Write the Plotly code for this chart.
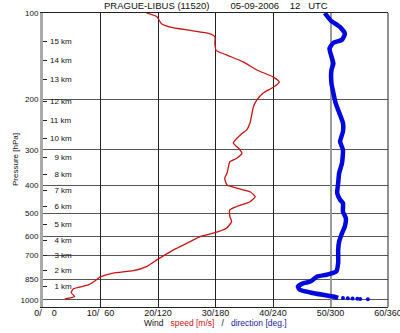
import math
import plotly.graph_objects as go

# ---------------- data ----------------
# wind speed profile (m/s) vs pressure (hPa)
speed_p = [994, 974, 945, 915, 888, 852, 834, 807, 792, 766, 726, 670, 627, 602, 586,
           563, 534, 513, 486, 473, 455, 437, 420, 408, 398, 377, 362, 348, 330, 321,
           308, 296, 284, 263, 256, 242, 212, 201, 190, 182, 174, 167, 158, 148, 140,
           135, 128, 121, 118, 115, 112, 109, 103, 100]
speed_ms = [3.8, 5.5, 4.9, 5.3, 7.9, 9.3, 9.9, 12.2, 15.7, 18.0, 19.8, 22.7, 25.6, 27.3, 29.6,
            31.9, 32.8, 32.5, 32.5, 33.7, 36.0, 36.9, 36.0, 33.7, 32.0, 31.6, 32.0, 32.2, 32.5, 33.7,
            34.6, 34.0, 33.1, 34.6, 35.4, 36.0, 36.6, 37.2, 38.3, 40.0, 41.1, 40.0, 37.2, 34.8, 31.9,
            30.1, 29.9, 29.9, 29.0, 25.6, 22.1, 20.6, 19.8, 18.0]

# wind direction profile (deg) vs pressure (hPa)
dir_p = [985, 974, 961, 943, 923, 899, 875, 864, 830, 818, 797, 745, 670, 627, 586,
         555, 519, 493, 460, 448, 425, 392, 362, 334, 300, 281, 259, 242, 218, 204,
         190, 176, 158, 150, 142, 133, 127, 124, 118, 112, 106, 100]
dir_deg = [308, 303, 292, 279, 268, 266, 272, 279, 286, 296, 306, 308, 308, 309, 312,
           315, 316, 313, 313, 310, 307, 308, 309, 312, 313, 310, 313, 313, 308, 305,
           303, 301, 301, 303, 301, 299, 303, 312, 315, 310, 300, 294]
# isolated near-surface direction points
sfc_p = [987, 989, 991, 993, 995, 997]
sfc_deg = [313, 318, 323, 328, 331, 339]

# axis ticks
speed_ticks = [0, 10, 20, 30, 40, 50, 60]
dir_ticks = [0, 60, 120, 180, 240, 300, 360]
speed_grid = [10, 20, 30, 40]
dir_ref = [300]
p_ticks = [100, 200, 300, 400, 500, 600, 700, 850, 1000]
km_labels = [15, 14, 13, 12, 11, 10, 9, 8, 7, 6, 5, 4, 3, 2, 1]
km_p = [126, 147, 171, 203, 238, 275, 318, 367, 417, 474, 548, 623, 703, 793, 902]

title_station = "PRAGUE-LIBUS (11520)"
title_date = "05-09-2006"
title_hour = "12"
title_zone = "UTC"

# ---------------- figure ----------------
NB = "\u00a0"
FONT = "Liberation Sans, Arial, sans-serif"
RED = "#cc1111"
BLUE = "#0008dd"

def pad(v, n):
    s = str(v)
    return NB * (2 * (n - len(s))) + s

xticktext = [f"{pad(s, 2)}/{pad(d, 3)}" for s, d in zip(speed_ticks, dir_ticks)]

yr = [math.log10(1060), 2]

fig = go.Figure()
fig.add_trace(go.Scatter(x=speed_ms, y=speed_p, mode="lines",
                         line=dict(color=RED, width=1.3, shape="spline", smoothing=0.5),
                         xaxis="x", yaxis="y", showlegend=False, hoverinfo="skip"))
fig.add_trace(go.Scatter(x=dir_deg, y=dir_p, mode="lines",
                         line=dict(color=BLUE, width=4.5, shape="spline", smoothing=0.5),
                         xaxis="x2", yaxis="y", showlegend=False, hoverinfo="skip"))
fig.add_trace(go.Scatter(x=sfc_deg, y=sfc_p, mode="markers",
                         marker=dict(color=BLUE, size=4),
                         xaxis="x2", yaxis="y", showlegend=False, hoverinfo="skip"))
fig.add_trace(go.Scatter(x=[None], y=[None], xaxis="x", yaxis="y2",
                         showlegend=False, hoverinfo="skip"))
fig.add_trace(go.Scatter(x=[None], y=[None], xaxis="x3", yaxis="y",
                         showlegend=False, hoverinfo="skip"))

fig.add_shape(type="line", xref="paper", yref="paper", x0=1, x1=1, y0=0, y1=1,
              line=dict(color="#222222", width=1))

fig.update_layout(
    width=400, height=333,
    margin=dict(l=43, r=12, t=13, b=26, autoexpand=False),
    paper_bgcolor="white", plot_bgcolor="white",
    font=dict(family=FONT, color="#111111", size=8),
    xaxis=dict(range=[0, 60], tickvals=speed_ticks, ticktext=xticktext,
               showgrid=False, automargin=False,
               showline=True, linecolor="#222222", linewidth=1, mirror=True,
               ticks="", zeroline=False, tickfont=dict(size=9), fixedrange=True,
               ticklabeloverflow="allow", ticklabelstandoff=-3),
    xaxis2=dict(range=[0, 360], overlaying="x", tickvals=dir_ref, showgrid=True,
                gridcolor="#9a9a9a", gridwidth=2, showticklabels=False, ticks="",
                showline=False, zeroline=False, fixedrange=True, automargin=False),
    xaxis3=dict(range=[0, 60], overlaying="x", tickvals=speed_grid, showgrid=True,
                gridcolor="#222222", gridwidth=1, showticklabels=False, ticks="",
                showline=False, zeroline=False, fixedrange=True, automargin=False),
    yaxis=dict(type="log", range=yr, tickvals=p_ticks, ticktext=[str(p) for p in p_ticks],
               showgrid=True, gridcolor="#555555", gridwidth=1, automargin=False,
               showline=True, linecolor="#aaaaaa", linewidth=3, mirror=False,
               ticks="", zeroline=False, tickfont=dict(size=8), ticklabelstandoff=0),
    yaxis2=dict(type="log", range=yr, overlaying="y", side="left", anchor="x",
                tickvals=km_p, ticks="inside", ticklen=4, showticklabels=False,
                tickcolor="#222222", tickwidth=1, automargin=False,
                showgrid=False, showline=False, zeroline=False),
)

for k, p in zip(km_labels, km_p):
    fig.add_annotation(text=f"{pad(k, 2)} km", xref="paper", yref="y2",
                       x=0, y=math.log10(p), xshift=5, xanchor="left", yanchor="middle",
                       showarrow=False, font=dict(size=8))

title_text = (title_station + NB * 8 + title_date + NB * 4 + title_hour + NB * 3 + title_zone)
fig.add_annotation(text=title_text, xref="paper", yref="paper", x=0.5, y=1,
                   yshift=8, showarrow=False, font=dict(size=9.5),
                   xanchor="center", yanchor="middle")
xtitle = ("Wind" + NB * 3 + f'<span style="color:{RED}">speed [m/s]</span>' + NB * 3 + "/"
          + NB * 3 + f'<span style="color:#1a1aa0">direction [deg.]</span>')
fig.add_annotation(text=xtitle, xref="paper", yref="paper", x=0.5, y=0, yshift=-16,
                   showarrow=False, font=dict(size=8.5), xanchor="center", yanchor="middle")
fig.add_annotation(text="Pressure [hPa]", xref="paper", yref="paper", x=0, xshift=-28,
                   y=0.5, textangle=-90, showarrow=False, font=dict(size=8),
                   xanchor="center", yanchor="middle")

fig.write_html("out.html")
